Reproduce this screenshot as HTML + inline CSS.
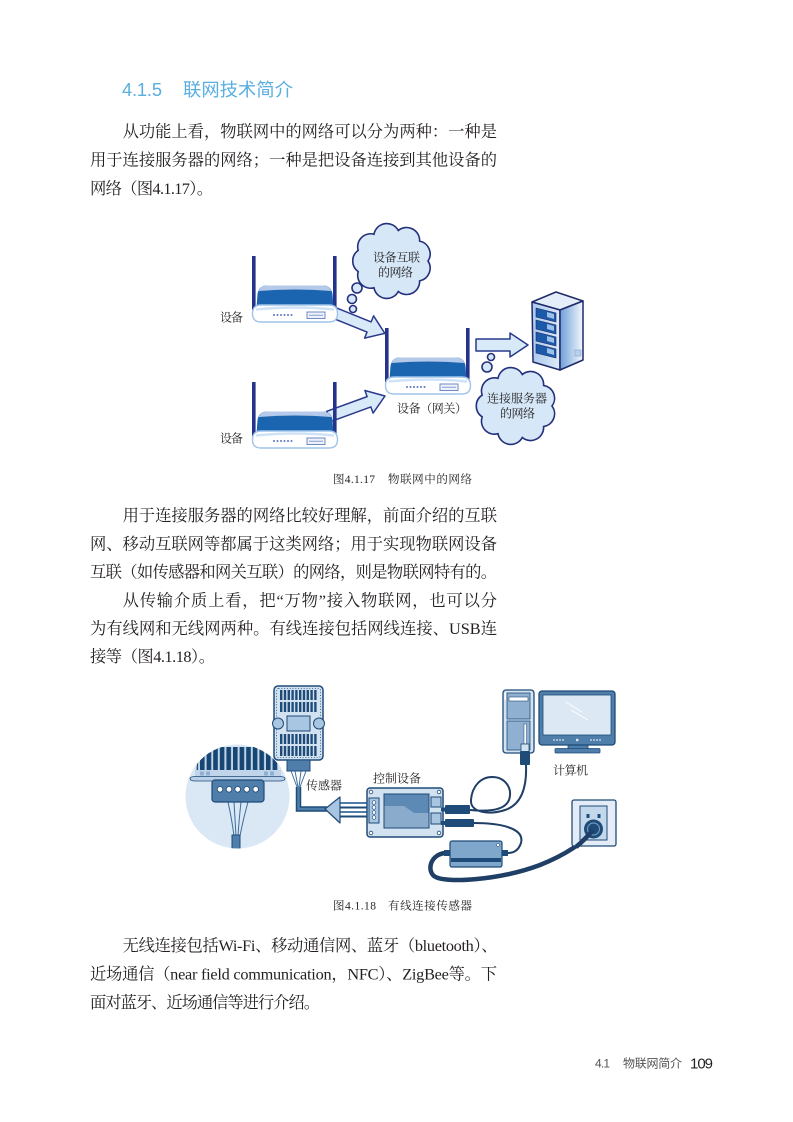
<!DOCTYPE html>
<html><head><meta charset="utf-8">
<style>
html,body{margin:0;padding:0;background:#fff;}
svg{display:block;}
.b{font-family:"Liberation Serif","Noto Serif CJK SC",serif;font-size:16.3px;fill:#231f20;}
.s{font-family:"Liberation Serif","Noto Serif CJK SC",serif;font-size:12px;fill:#231f20;}
.h{font-family:"Liberation Sans","Noto Sans CJK SC",sans-serif;font-size:18.3px;fill:#5aaee0;}
.f{font-family:"Liberation Sans","Noto Sans CJK SC",sans-serif;font-size:12px;fill:#555;}
</style></head><body>
<svg width="793" height="1122" viewBox="0 0 793 1122" xmlns="http://www.w3.org/2000/svg">
<defs>
<pattern id="vs" x="280" y="0" width="3.8" height="20" patternUnits="userSpaceOnUse"><rect width="2.4" height="20" fill="#1f4b78"/></pattern>
<pattern id="vs2" x="200" y="0" width="6.6" height="40" patternUnits="userSpaceOnUse"><rect width="6.6" height="40" fill="#c0d5ea"/><rect width="4.6" height="40" fill="#174673"/></pattern>
<linearGradient id="sf" x1="0" y1="0" x2="1" y2="0"><stop offset="0" stop-color="#a9c9ec"/><stop offset="1" stop-color="#dfeaf8"/></linearGradient>
<linearGradient id="sr" x1="0" y1="0" x2="1" y2="0"><stop offset="0" stop-color="#6f9fd8"/><stop offset="1" stop-color="#f4f8fd"/></linearGradient>
<clipPath id="mc"><circle cx="237.5" cy="796.5" r="52"/></clipPath>
<g id="rt">
<rect x="252" y="256" width="3.6" height="54" fill="#25338a"/>
<rect x="333" y="256" width="3.6" height="54" fill="#25338a"/>
<path d="M256.5,308 L257.5,294 Q259,285.5 267,285.5 L323,285.5 Q331,285.5 332.5,294 L333.5,308 Z" fill="#1a64b0"/>
<path d="M258.5,291 Q261,285.5 267,285.5 L323,285.5 Q329,285.5 331.5,291 Q295,288 258.5,291 Z" fill="#b5c9ea"/>
<path d="M261,305 L329,305 Q337.5,305 337.5,313.5 Q337.5,322 329,322 L261,322 Q252.5,322 252.5,313.5 Q252.5,305 261,305 Z" fill="#fff" stroke="#9fc3ea" stroke-width="1.4"/>
<path d="M256,309.5 Q295,305.5 334,309.5" stroke="#cfe2f6" stroke-width="2.5" fill="none"/>
<g fill="#5a78bd"><circle cx="274" cy="315" r="1"/><circle cx="277.5" cy="315" r="1"/><circle cx="281" cy="315" r="1"/><circle cx="284.5" cy="315" r="1"/><circle cx="288" cy="315" r="1"/><circle cx="291.5" cy="315" r="1"/></g>
<rect x="307" y="312" width="18" height="6.5" fill="#eef2fb" stroke="#6f88c6" stroke-width="1"/>
<line x1="309" y1="315.2" x2="323" y2="315.2" stroke="#6f88c6" stroke-width="0.8"/>
</g>
</defs>

<!-- Heading -->
<text class="h" x="122" y="96" textLength="40" lengthAdjust="spacing">4.1.5</text>
<text class="h" x="183" y="96" textLength="110" lengthAdjust="spacing">联网技术简介</text>

<!-- Paragraph 1 -->
<text class="b" x="122.6" y="137" textLength="374.4" lengthAdjust="spacing">从功能上看，物联网中的网络可以分为两种：一种是</text>
<text class="b" x="90" y="165.5" textLength="407" lengthAdjust="spacing">用于连接服务器的网络；一种是把设备连接到其他设备的</text>
<text class="b" x="90" y="194" textLength="123" lengthAdjust="spacing">网络（图4.1.17）。</text>

<!-- Figure 1 -->
<g fill="#d8e9f8" stroke="#2a3a8c" stroke-width="1.5" stroke-linejoin="round">
<polygon transform="translate(332,312) rotate(22)" points="0,-5.5 40,-5.5 40,-12 57,0 40,12 40,5.5 0,5.5"/>
<polygon transform="translate(328.6,416.5) rotate(-20)" points="0,-5.5 43,-5.5 43,-12 60,0 43,12 43,5.5 0,5.5"/>
<polygon transform="translate(476,345)" points="0,-6 34,-6 34,-12 52,0 34,12 34,6 0,6"/>
</g>
<use href="#rt"/>
<use href="#rt" transform="translate(0,126)"/>
<use href="#rt" transform="translate(133,72)"/>

<g fill="#d6e8f8" stroke="#25307c" stroke-width="1.6">
<path d="M428,261 A13,13 0 0 1 419.6,280.9 A13,13 0 0 1 398.3,291.5 A13,13 0 0 1 374,287.8 A13,13 0 0 1 358.2,271.6 A13,13 0 0 1 358.2,250.4 A13,13 0 0 1 374,234.2 A13,13 0 0 1 398.3,230.5 A13,13 0 0 1 419.6,241.1 A13,13 0 0 1 428,261 Z"/>
<circle cx="357" cy="288" r="5"/>
<circle cx="352" cy="299" r="4.5"/>
<circle cx="353" cy="309" r="3.5"/>
<path d="M552,406 A13,13 0 0 1 543.6,426.6 A13,13 0 0 1 522.3,437.5 A13,13 0 0 1 498,433.7 A13,13 0 0 1 482.2,416.9 A13,13 0 0 1 482.2,395.1 A13,13 0 0 1 498,378.3 A13,13 0 0 1 522.3,374.5 A13,13 0 0 1 543.6,385.4 A13,13 0 0 1 552,406 Z"/>
<circle cx="491" cy="357" r="3.5"/>
<circle cx="487" cy="367" r="5"/>
</g>

<g stroke="#1f2a6b" stroke-width="1.5" stroke-linejoin="round">
<polygon points="532,302 556,292 583,301 560,310" fill="#e3eefa"/>
<polygon points="532,302 560,310 560,370 533,362" fill="url(#sf)"/>
<polygon points="560,310 583,301 583,360 560,370" fill="url(#sr)"/>
</g>
<g fill="#1b5aa8" stroke="#1f2a6b" stroke-width="0.6">
<polygon points="536,308 556,313 556,322 536,317"/>
<polygon points="536,320 556,325 556,334 536,329"/>
<polygon points="536,332 556,337 556,346 536,341"/>
<polygon points="536,344 556,349 556,358 536,353"/>
</g>
<g fill="#9cc0e8">
<polygon points="547,312 554,314 554,319 547,317"/>
<polygon points="547,324 554,326 554,331 547,329"/>
<polygon points="547,336 554,338 554,343 547,341"/>
<polygon points="547,348 554,350 554,355 547,353"/>
</g>
<rect x="575" y="350" width="6" height="6" fill="#b9d0ee" stroke="#7fa3d6" stroke-width="0.6"/>

<text class="s" x="220" y="321.6" textLength="23" lengthAdjust="spacing">设备</text>
<text class="s" x="220" y="442.6" textLength="23" lengthAdjust="spacing">设备</text>
<text class="s" x="397" y="412.6" textLength="70" lengthAdjust="spacing">设备（网关）</text>
<text class="s" x="373" y="261.6" textLength="47" lengthAdjust="spacing">设备互联</text>
<text class="s" x="378" y="276.5" textLength="35" lengthAdjust="spacing">的网络</text>
<text class="s" x="487" y="402.6" textLength="60" lengthAdjust="spacing">连接服务器</text>
<text class="s" x="500" y="417.5" textLength="35" lengthAdjust="spacing">的网络</text>

<text class="s" x="333" y="483" textLength="42" lengthAdjust="spacing" style="font-size:11.5px">图4.1.17</text>
<text class="s" x="388" y="483" textLength="84" lengthAdjust="spacing" style="font-size:11.5px">物联网中的网络</text>

<!-- Paragraph 2 & 3 -->
<text class="b" x="122.6" y="521" textLength="374.4" lengthAdjust="spacing">用于连接服务器的网络比较好理解，前面介绍的互联</text>
<text class="b" x="90" y="549.5" textLength="407" lengthAdjust="spacing">网、移动互联网等都属于这类网络；用于实现物联网设备</text>
<text class="b" x="90" y="577.7" textLength="407" lengthAdjust="spacing">互联（如传感器和网关互联）的网络，则是物联网特有的。</text>
<text class="b" x="122.6" y="606" textLength="374.4" lengthAdjust="spacing">从传输介质上看，把“万物”接入物联网，也可以分</text>
<text class="b" x="90" y="634" textLength="407" lengthAdjust="spacing">为有线网和无线网两种。有线连接包括网线连接、USB连</text>
<text class="b" x="90" y="662" textLength="125" lengthAdjust="spacing">接等（图4.1.18）。</text>

<!-- Figure 2 -->
<circle cx="237.5" cy="796.5" r="52" fill="#dae7f4"/>
<g clip-path="url(#mc)">
<path d="M196,778 L197,762 Q200,748 214,747 L261,747 Q275,748 278,762 L279,778 Z" fill="url(#vs2)"/>
<rect x="195" y="770" width="86" height="7" fill="#c0d5ea"/>
<g fill="#8fb0d2"><rect x="200" y="771.5" width="4" height="4"/><rect x="206" y="771.5" width="4" height="4"/><rect x="264" y="771.5" width="4" height="4"/><rect x="270" y="771.5" width="4" height="4"/></g>
<path d="M190,778.5 Q190,776.5 196,776.5 L279,776.5 Q285,776.5 285,778.5 Q285,781 279,781 L196,781 Q190,781 190,778.5 Z" fill="#b9d0e8" stroke="#1f4b78" stroke-width="0.8"/>
<g stroke="#3d6d9c" stroke-width="1" fill="none">
<path d="M228,802 Q232,820 234,836"/><path d="M234,802 Q235,820 236,836"/><path d="M241,802 Q239,820 238,836"/><path d="M248,802 Q243,820 240,836"/>
</g>
<rect x="212" y="780" width="52" height="22" rx="3" fill="#4f7eab" stroke="#1f4b78" stroke-width="1.2"/>
<g fill="#fff" stroke="#1f4b78" stroke-width="0.8">
<circle cx="220" cy="789.3" r="2.8"/><circle cx="229" cy="789.3" r="2.8"/><circle cx="237.7" cy="789.3" r="2.8"/><circle cx="246.7" cy="789.3" r="2.8"/><circle cx="255.7" cy="789.3" r="2.8"/>
</g>
<rect x="232" y="835" width="8" height="20" fill="#4f7eab" stroke="#1f4b78" stroke-width="1"/>
</g>

<rect x="274" y="686" width="49" height="74" rx="4" fill="#d2e2f1" stroke="#1f4b78" stroke-width="1.5"/>
<rect x="276.5" y="688.5" width="44" height="69" rx="2" fill="none" stroke="#1f4b78" stroke-width="0.8" stroke-dasharray="1 1.8"/>
<rect x="280" y="690" width="38" height="10" fill="url(#vs)"/>
<rect x="280" y="702" width="38" height="10" fill="url(#vs)"/>
<rect x="280" y="734" width="38" height="10" fill="url(#vs)"/>
<rect x="280" y="746" width="38" height="10" fill="url(#vs)"/>
<circle cx="278" cy="723.5" r="5.5" fill="#a8c5e2" stroke="#1f4b78" stroke-width="1"/>
<circle cx="319" cy="723.5" r="5.5" fill="#a8c5e2" stroke="#1f4b78" stroke-width="1"/>
<rect x="287" y="716" width="23" height="15" fill="#a8c5e2" stroke="#1f4b78" stroke-width="1"/>
<rect x="287" y="760" width="23" height="11" fill="#4f7eab" stroke="#1f4b78" stroke-width="1"/>
<g stroke="#3d6d9c" stroke-width="1"><line x1="291" y1="771" x2="297" y2="787"/><line x1="295" y1="771" x2="298" y2="787"/><line x1="301" y1="771" x2="299" y2="787"/><line x1="306" y1="771" x2="300" y2="787"/></g>
<path d="M298.5,787 L298.5,809 L327,809" stroke="#1f4b78" stroke-width="5.5" fill="none"/>
<path d="M298.5,787 L298.5,809 L327,809" stroke="#4f7eab" stroke-width="2.5" fill="none"/>
<g stroke-width="2"><line x1="338" y1="803" x2="369" y2="803" stroke="#4f7eab"/><line x1="338" y1="807.5" x2="369" y2="807.5" stroke="#1f4b78"/><line x1="338" y1="812" x2="369" y2="812" stroke="#4f7eab"/><line x1="338" y1="816.5" x2="369" y2="816.5" stroke="#1f4b78"/></g>
<polygon points="325,809 340,797 340,823" fill="#a8c5e2" stroke="#1f4b78" stroke-width="1.2" stroke-linejoin="round"/>

<rect x="367" y="788" width="76" height="49" rx="3" fill="#d2e2f1" stroke="#1f4b78" stroke-width="1.5"/>
<g fill="#fff" stroke="#1f4b78" stroke-width="0.8"><circle cx="371" cy="792" r="1.8"/><circle cx="439" cy="792" r="1.8"/><circle cx="371" cy="833" r="1.8"/><circle cx="439" cy="833" r="1.8"/></g>
<rect x="369" y="798" width="10" height="25" fill="#a8c5e2" stroke="#1f4b78" stroke-width="1"/>
<g fill="#fff" stroke="#1f4b78" stroke-width="0.7"><circle cx="374" cy="802.5" r="1.8"/><circle cx="374" cy="807.5" r="1.8"/><circle cx="374" cy="812.5" r="1.8"/><circle cx="374" cy="817.5" r="1.8"/></g>
<rect x="384" y="794" width="45" height="34" fill="#8aabcc" stroke="#1f4b78" stroke-width="1"/>
<polygon points="384.5,794.5 428.5,794.5 428.5,813 414,813 404,806 384.5,806" fill="#5d89b5"/>
<rect x="431" y="797" width="10" height="10" fill="#a8c5e2" stroke="#1f4b78" stroke-width="1"/>
<rect x="431" y="813" width="10" height="11" fill="#a8c5e2" stroke="#1f4b78" stroke-width="1"/>
<rect x="441" y="807.5" width="5" height="4" fill="#1f4b78"/>
<rect x="445" y="805" width="25" height="9" rx="1" fill="#1f4b78"/>
<rect x="441" y="821" width="5" height="4" fill="#1f4b78"/>
<rect x="445" y="819" width="29" height="8" rx="1" fill="#1f4b78"/>

<g fill="none" stroke="#1f3f66" stroke-width="2">
<path d="M526,765 C527,790 520,805 505,810 C490,815 470,813 471,800 C472,786 481,777 492,777 C505,777 513,788 509,800 C505,810 490,812 470,810"/>
<path d="M474,823 C500,823 525,828 521,843 C518,852 512,853 507,853"/>
</g>
<path d="M445,853 C430,855 427,870 434,876 C444,884 500,880 540,865 C565,855 585,842 593,830" fill="none" stroke="#1f3f66" stroke-width="4.5"/>

<rect x="444" y="850" width="7" height="6" fill="#1f4b78"/>
<rect x="501" y="850" width="7" height="6" fill="#1f4b78"/>
<rect x="450" y="841" width="52" height="26" rx="2" fill="#7fa6cb" stroke="#1f4b78" stroke-width="1.2"/>
<rect x="451" y="858" width="50" height="4" fill="#1f4b78"/>
<circle cx="498" cy="845" r="1.5" fill="#fff" stroke="#1f4b78" stroke-width="0.5"/>

<rect x="572" y="800" width="44" height="46" rx="2" fill="#e4edf7" stroke="#1f4b78" stroke-width="1.3"/>
<rect x="580" y="806" width="27" height="34" fill="#c4d8ec" stroke="#1f4b78" stroke-width="1"/>
<rect x="586.5" y="814" width="3" height="4" fill="#1f4b78"/>
<rect x="597.5" y="814" width="3" height="4" fill="#1f4b78"/>
<circle cx="593.5" cy="829" r="9.5" fill="#1f4b78"/>
<circle cx="593.5" cy="829" r="6" fill="none" stroke="#6f98c2" stroke-width="1.2"/>
<path d="M593,830 C588,836 582,842 576,847" stroke="#1f3f66" stroke-width="4.5" fill="none"/>

<rect x="503" y="690" width="31" height="63" rx="3" fill="#d4e3f2" stroke="#1f4b78" stroke-width="1.3"/>
<rect x="507" y="693" width="23" height="26" fill="#8fb0d0" stroke="#1f4b78" stroke-width="0.8"/>
<rect x="509" y="697" width="19" height="4" fill="#fff" stroke="#1f4b78" stroke-width="0.6"/>
<rect x="507" y="721" width="23" height="29" fill="#8fb0d0" stroke="#1f4b78" stroke-width="0.8"/>
<rect x="524" y="724" width="2.5" height="20" fill="#fff" stroke="#1f4b78" stroke-width="0.5"/>
<rect x="504.5" y="693" width="1.5" height="7" fill="#fff"/>
<rect x="521" y="744" width="8" height="8" fill="#d4e3f2" stroke="#1f4b78" stroke-width="0.8"/>
<rect x="520" y="751" width="10" height="14" rx="1" fill="#1f4b78"/>

<rect x="568" y="744" width="20" height="5" fill="#4f7eab" stroke="#1f4b78" stroke-width="0.8"/>
<rect x="555" y="748.5" width="45" height="4.5" rx="1" fill="#4f7eab" stroke="#1f4b78" stroke-width="0.8"/>
<rect x="539" y="691" width="76" height="54" rx="3" fill="#4f7eab" stroke="#1f4b78" stroke-width="1.3"/>
<rect x="543" y="695" width="68" height="40" fill="#dce8f4" stroke="#1f4b78" stroke-width="0.8"/>
<g stroke="#fff" stroke-width="1"><line x1="566" y1="702" x2="582" y2="712"/><line x1="571" y1="710" x2="588" y2="720"/></g>
<g fill="#dce8f4"><circle cx="554" cy="740" r="0.9"/><circle cx="557" cy="740" r="0.9"/><circle cx="560" cy="740" r="0.9"/><circle cx="563" cy="740" r="0.9"/><rect x="576" y="738.8" width="2.4" height="2.4"/><circle cx="591" cy="740" r="0.9"/><circle cx="594" cy="740" r="0.9"/><circle cx="597" cy="740" r="0.9"/><circle cx="600" cy="740" r="0.9"/></g>

<text class="s" x="306" y="789.6" textLength="36" lengthAdjust="spacing">传感器</text>
<text class="s" x="373" y="782.6" textLength="48" lengthAdjust="spacing">控制设备</text>
<text class="s" x="553" y="774.6" textLength="35" lengthAdjust="spacing">计算机</text>

<text class="s" x="333" y="909.5" textLength="43" lengthAdjust="spacing" style="font-size:11.5px">图4.1.18</text>
<text class="s" x="388" y="909.5" textLength="84" lengthAdjust="spacing" style="font-size:11.5px">有线连接传感器</text>

<!-- Paragraph 4 -->
<text class="b" x="122.6" y="951" textLength="375" lengthAdjust="spacing">无线连接包括Wi-Fi、移动通信网、蓝牙（bluetooth）、</text>
<text class="b" x="90" y="979.5" textLength="407" lengthAdjust="spacing">近场通信（near field communication，NFC）、ZigBee等。下</text>
<text class="b" x="90" y="1008" textLength="230" lengthAdjust="spacing">面对蓝牙、近场通信等进行介绍。</text>

<!-- Footer -->
<text class="f" x="595" y="1067.5" textLength="15" lengthAdjust="spacing">4.1</text>
<text class="f" x="623" y="1067.5" textLength="59" lengthAdjust="spacing">物联网简介</text>
<text x="690" y="1068.5" textLength="23" lengthAdjust="spacing" style="font-family:'Liberation Sans',sans-serif;font-size:15px;fill:#231f20">109</text>
</svg>
</body></html>
